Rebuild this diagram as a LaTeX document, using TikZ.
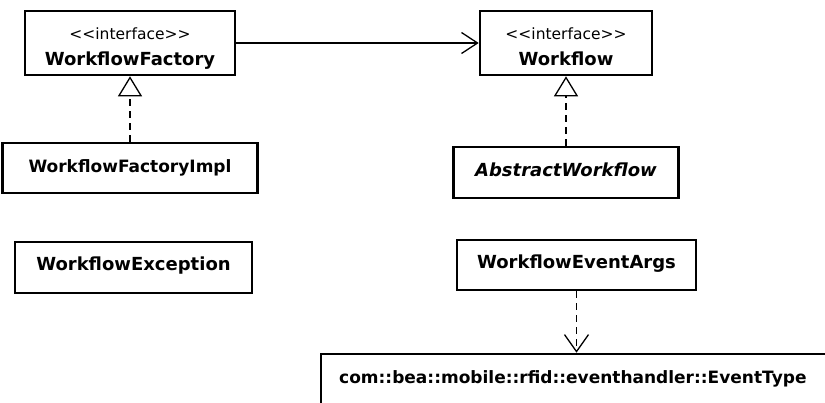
\documentclass[tikz,border=0pt]{standalone}
\usepackage{fontspec}
\setmainfont{DejaVu Sans}
\usetikzlibrary{arrows.meta}
\begin{document}
\begin{tikzpicture}[x=1pt,y=-1pt,
  box/.style={draw, line width=2.6pt, fill=white, inner sep=0pt, minimum width=#1},
  box/.default=100pt,
  name18/.style={inner sep=0pt, anchor=base, font=\fontsize{18}{21}\selectfont\bfseries},
  name17/.style={inner sep=0pt, anchor=base, font=\fontsize{17}{20}\selectfont\bfseries},
  stereo/.style={inner sep=0pt, anchor=base, font=\fontsize{15.5}{18}\selectfont},
  assoc/.style={line width=1.3pt, -{Straight Barb[length=16pt, width=21pt, line width=1.3pt]}},
  realize/.style={line width=1.3pt, dash pattern=on 7pt off 5pt,
    -{Triangle[open, fill=white, length=20pt, width=24pt, line width=1.3pt]}},
  depend/.style={line width=1.3pt, dash pattern=on 7pt off 5pt,
    -{Straight Barb[length=17pt, width=24pt, line width=1.3pt]}}
]
\useasboundingbox (0,0) rectangle (825,402);
\clip (0,0) rectangle (825,402);
\fill[white] (0,0) rectangle (825,402);

% interfaces
\node[box=210pt, minimum height=64pt] (wf) at (130,43) {};
\node[stereo] (wfst) at (130,39) {<\kern0pt<interface>\kern0pt>};
\node[name18] (wfnm) at (130,65) {WorkflowFactory};

\node[box=172pt, minimum height=64pt] (wfl) at (566,43) {};
\node[stereo] (wflst) at (566,39) {<\kern0pt<interface>\kern0pt>};
\node[name18] (wflnm) at (566,65) {Workflow};

% classes
\node[box=255pt, minimum height=50pt] (impl) at (130,168) {};
\node[name17] (implnm) at (130,172) {WorkflowFactoryImpl};

\node[box=225pt, minimum height=51pt] (abs) at (566,172.5) {};
\node[name18, font=\fontsize{18}{21}\selectfont\bfseries\itshape] (absnm) at (566,176) {AbstractWorkflow};

\node[box=237pt, minimum height=51pt] (exc) at (133.5,267.5) {};
\node[name18] (excnm) at (133.5,270) {WorkflowException};

\node[box=239pt, minimum height=50pt] (args) at (576.5,265) {};
\node[name18] (argsnm) at (576.5,268) {WorkflowEventArgs};

\node[box=540pt, minimum height=90pt] (evt) at (591,399) {};
\node[name17, anchor=base west] (evtnm) at (339,383) {com::bea::mobile::rfid::eventhandler::EventType};

% relations
\draw[assoc] (wf) -- (wfl);
\draw[realize] (impl.north) -- (wf.south);
\draw[realize] (abs.north) -- (wfl.south);
\draw[depend] (args.south) -- (args.south |- evt.north);
\end{tikzpicture}
\end{document}
